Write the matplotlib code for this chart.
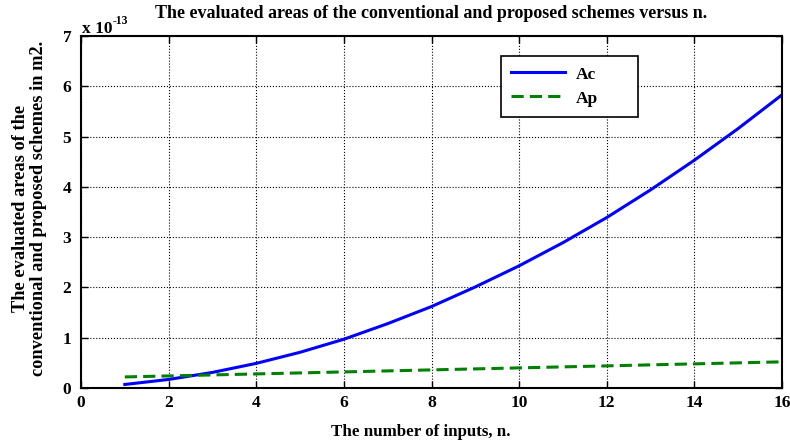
import matplotlib
matplotlib.use("Agg")
import matplotlib.pyplot as plt

n = [1, 2, 3, 4, 5, 6, 7, 8, 9, 10, 11, 12, 13, 14, 15, 16]
Ac = [0.07, 0.17, 0.31, 0.49, 0.71, 0.97, 1.28, 1.62, 2.01, 2.43, 2.89, 3.39, 3.94, 4.53, 5.16, 5.83]
Ap = [0.22, 0.24, 0.26, 0.28, 0.30, 0.32, 0.34, 0.36, 0.38, 0.40, 0.42, 0.44, 0.46, 0.48, 0.50, 0.52]
xticks = [0, 2, 4, 6, 8, 10, 12, 14, 16]
yticks = [0, 1, 2, 3, 4, 5, 6, 7]

plt.rcParams['font.family'] = ['Liberation Serif', 'DejaVu Serif']
plt.rcParams['font.weight'] = 'bold'

W, H = 790, 443
fig = plt.figure(figsize=(7.9, 4.43), dpi=100)
ax = fig.add_axes([81 / W, 1 - 388 / H, 701 / W, 352 / H])
ax.plot(n, Ac, color='#0000ff', lw=2.2, label='Ac')
ax.plot(n, Ap, color='#008000', lw=2.2, ls='--', dashes=(4, 2), label='Ap')
ax.set_xlim(0, 16)
ax.set_ylim(0, 7)
ax.set_xticks(xticks)
ax.set_yticks(yticks)
ax.tick_params(direction='in', top=True, right=True, labelsize=12.5, length=5, width=1)
ax.tick_params(axis='y', pad=7)
ax.tick_params(axis='x', pad=5)
for lab in ax.get_xticklabels() + ax.get_yticklabels():
    lab.set_fontweight('bold')
ax.grid(True, color='black', ls=':', lw=0.8)
for s in ax.spines.values():
    s.set_linewidth(1.5)

fig.text(420.5 / W, 1 - 432 / H, 'The number of inputs, n.', fontsize=12.2, fontweight='bold',
         ha='center', va='center')
fig.text(29.5 / W, 1 - 208 / H, 'The evaluated areas of the\nconventional and proposed schemes in m2.',
         fontsize=13.2, fontweight='bold', rotation=90, ha='center', va='center',
         rotation_mode='anchor', linespacing=1.15)
fig.text(431.5 / W, 1 - 13 / H,
         'The evaluated areas of the conventional and proposed schemes versus n.',
         fontsize=13, fontweight='bold', ha='center', va='center')
fig.text(82 / W, 1 - 33 / H, 'x 10', fontsize=12.5, fontweight='bold', ha='left', va='baseline')
fig.text(113 / W, 1 - 24 / H, '-13', fontsize=8.5, fontweight='bold', ha='left', va='baseline')

lx0 = (501 - 81) / 701
ly1 = (388 - 56) / 352
lw_ = 137 / 701
lh_ = 59 / 352
leg = ax.legend(loc='upper left', bbox_to_anchor=(lx0, ly1 - lh_, lw_, lh_), mode='expand',
                fontsize=12.5, fancybox=False, edgecolor='black', framealpha=1,
                handlelength=3.1, handletextpad=0.6, borderpad=0.6, labelspacing=0.45,
                borderaxespad=0)
leg.get_frame().set_linewidth(1.2)
for t in leg.get_texts():
    t.set_fontweight('bold')
fig.savefig('out.png', dpi=100)
